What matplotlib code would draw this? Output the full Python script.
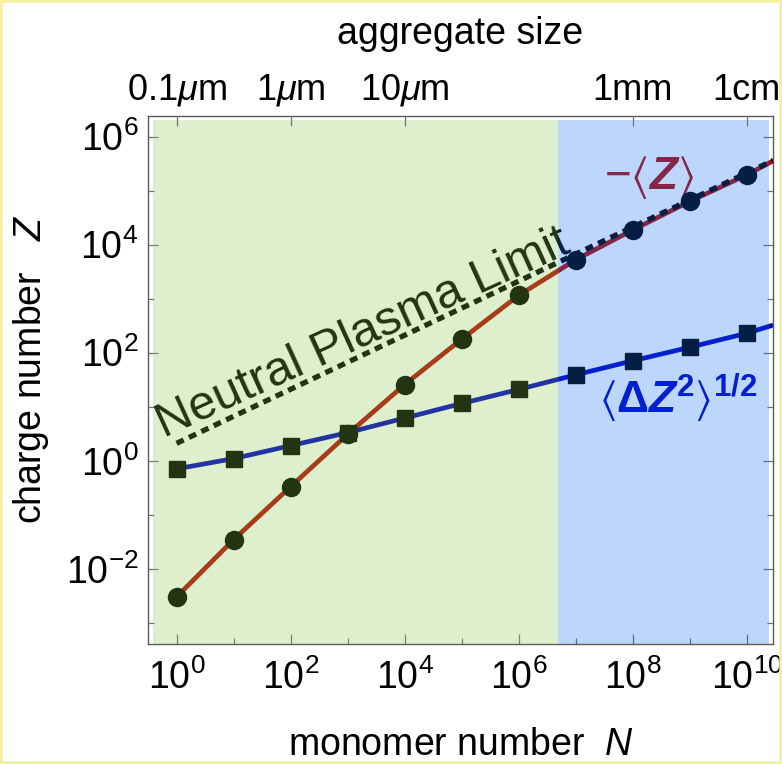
import numpy as np
import matplotlib
matplotlib.use("Agg")
import matplotlib.pyplot as plt
from matplotlib.patches import Rectangle

plt.rcParams["font.family"] = ["Liberation Sans", "DejaVu Sans"]
plt.rcParams["mathtext.fontset"] = "custom"
plt.rcParams["mathtext.rm"] = "Liberation Sans"
plt.rcParams["mathtext.it"] = "Liberation Sans:italic"
plt.rcParams["mathtext.bf"] = "Liberation Sans:bold"
plt.rcParams["mathtext.bfit"] = "Liberation Sans:bold:italic"
plt.rcParams["mathtext.fallback"] = "stixsans"

# monomer numbers of the simulated aggregates
N = [1e0, 1e1, 1e2, 1e3, 1e4, 1e5, 1e6, 1e7, 1e8, 1e9, 1e10]
# log10 of -<Z> (circles) and of <dZ^2>^1/2 (squares)
log_zmean = [-2.52, -1.46, -0.48, 0.49, 1.41, 2.25, 3.06, 3.72, 4.27, 4.80, 5.29]
log_zstd = [-0.15, 0.04, 0.28, 0.52, 0.79, 1.06, 1.32, 1.59, 1.85, 2.10, 2.36]
# the curves run on to the right frame
N_edge = 2.9e10
log_zmean_edge = 5.55
log_zstd_edge = 2.51

# neutral plasma limit (dotted)
N_npl = [1e0, 2.9e10]
Z_npl = [2.1, 3.6e5]

# boundary between the two shaded regimes
N_split = 4.9e6

# top axis: aggregate size
size_N = [1e0, 1e2, 1e4, 1e8, 1e10]
size_labels = [r"0.1$\mu$m", r"1$\mu$m", r"10$\mu$m", "1mm", "1cm"]

zmean = np.power(10.0, log_zmean)
zstd = np.power(10.0, log_zstd)
N_curve = N + [N_edge]
zmean_curve = np.power(10.0, log_zmean + [log_zmean_edge])
zstd_curve = np.power(10.0, log_zstd + [log_zstd_edge])

red = (180 / 255, 10 / 255, 8 / 255)
blue = (0, 0, 194 / 255)

fig = plt.figure(figsize=(7.82, 7.64), dpi=100)
fig.patches.append(Rectangle((0, 0), 1, 1, transform=fig.transFigure, fill=False,
                             edgecolor="#f4f0a0", linewidth=4))
ax = fig.add_axes([0.1893, 0.1571, 0.7992, 0.6911])
ax.set_xscale("log")
ax.set_yscale("log")
xlim = (10 ** -0.5, 10 ** 10.46)
ylim = (10 ** -3.39, 10 ** 6.38)
ax.set_xlim(xlim)
ax.set_ylim(ylim)

# curves and markers (black / pure colours, tinted by the overlay)
ax.plot(N_curve, zmean_curve, color=red, lw=3.4, zorder=2, solid_capstyle="butt")
ax.plot(N_curve, zstd_curve, color=blue, lw=3.4, zorder=2, solid_capstyle="butt")
ax.plot(N_npl, Z_npl, color="black", lw=3.8, ls=(0, (1.5, 1.1)), zorder=3)
ax.plot(N, zmean, "o", color="black", ms=13, zorder=4)
ax.plot(N, zstd, "s", color="black", ms=11.5, zorder=4)

ax.text(10 ** -0.22, 10 ** 0.43, "Neutral Plasma Limit", fontsize=35, color="black",
        rotation=24.5, rotation_mode="anchor", ha="left", va="baseline", zorder=3)
ax.text(10 ** 8.29, 10 ** 5.24, r"$-\langle\mathbfit{Z}\rangle$", fontsize=33,
        color=red, ha="center", va="center", zorder=3)
ax.text(10 ** 8.79, 10 ** 1.16,
        r"$\langle\mathbf{\Delta}\mathbfit{Z}^{\mathbf{2}}\rangle^{\mathbf{1/2}}$",
        fontsize=32, color=blue, ha="center", va="center", zorder=3)

# translucent regime shading on top
y0, y1 = ylim[0], 10 ** 6.31
ax.add_patch(Rectangle((10 ** -0.42, y0), N_split - 10 ** -0.42, y1 - y0,
                       facecolor=(134 / 255, 198 / 255, 74 / 255), alpha=0.265,
                       edgecolor="none", zorder=5))
ax.add_patch(Rectangle((N_split, y0), 10 ** 10.39 - N_split, y1 - y0,
                       facecolor=(16 / 255, 112 / 255, 241 / 255), alpha=0.28,
                       edgecolor="none", zorder=5))

# ticks
dec_x = [10.0 ** k for k in range(0, 11)]
dec_y = [10.0 ** k for k in range(-3, 7)]
ax.set_xticks([d for d in dec_x if round(np.log10(d)) % 2 == 0])
ax.set_xticklabels([r"$10^{%d}$" % round(np.log10(d)) for d in dec_x if round(np.log10(d)) % 2 == 0])
ax.set_xticks([d for d in dec_x if round(np.log10(d)) % 2 == 1], minor=True)
ax.set_xticklabels([], minor=True)
ax.set_yticks([d for d in dec_y if round(np.log10(d)) % 2 == 0])
ax.set_yticklabels([r"$10^{%d}$" % round(np.log10(d)) for d in dec_y if round(np.log10(d)) % 2 == 0])
ax.set_yticks([d for d in dec_y if round(np.log10(d)) % 2 != 0], minor=True)
ax.set_yticklabels([], minor=True)
ax.tick_params(which="both", direction="in", color="#707070", width=0.9,
               labelsize=27, right=True, top=False)
ax.tick_params(which="major", length=7.5)
ax.tick_params(which="minor", length=4.5)
ax.tick_params(axis="x", which="major", pad=11)
ax.tick_params(axis="y", which="major", pad=7)
for s in ax.spines.values():
    s.set_color("#5a5a5a")
    s.set_linewidth(1.0)

ax.set_xlabel(r"monomer number  $N$", fontsize=27, labelpad=22)
ax.set_ylabel(r"charge number   $Z$", fontsize=27)
ax.yaxis.set_label_coords(-0.155, 0.52)

ax2 = ax.twiny()
ax2.set_xscale("log")
ax2.set_xlim(xlim)
ax2.set_xticks(size_N)
ax2.set_xticklabels(size_labels)
ax2.set_xticks([], minor=True)
ax2.tick_params(direction="in", color="#707070", width=0.9, length=7.5,
                labelsize=26, pad=6)
ax2.set_xlabel("aggregate size", fontsize=27, labelpad=20)
for s in ax2.spines.values():
    s.set_visible(False)

fig.savefig("out.png", dpi=100)
